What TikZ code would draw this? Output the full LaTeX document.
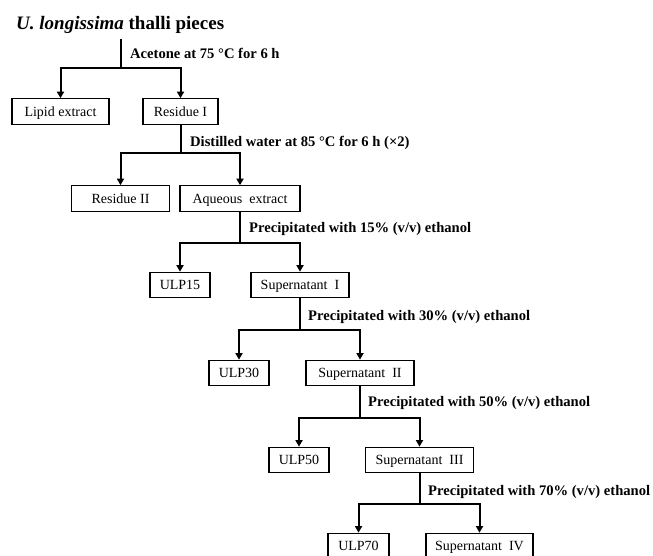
\documentclass[tikz,border=0pt]{standalone}
\usepackage{fontspec}
\setmainfont{Liberation Serif}
\usetikzlibrary{arrows.meta}
\begin{document}
\begin{tikzpicture}[x=1pt,y=-1pt,
  box/.style={draw,line width=1.2pt,minimum height=25.5pt,inner sep=0pt,text height=12pt,text depth=2.5pt,font=\fontsize{14}{16}\selectfont},
  lbl/.style={anchor=west,inner sep=0pt,font=\bfseries\fontsize{14.6}{16}\selectfont},
  line/.style={line width=2pt},
  arr/.style={line width=2pt,-{Triangle[length=6.5pt,width=7pt]}}]
\useasboundingbox (0,0) rectangle (653,556);
\clip (0,0) rectangle (653,556);
% title
\node[anchor=west,inner sep=0pt,font=\bfseries\fontsize{19}{22}\selectfont] (title) at (16,25) {\textit{U. longissima} thalli pieces};
\coordinate (t0) at (121,39);
% boxes
\node[box,minimum width=97pt] (lipid) at (60.5,111.5) {Lipid extract};
\node[box,minimum width=75pt] (res1) at (180.5,111.5) {Residue I};
\node[box,minimum width=98pt] (res2) at (120.5,198.5) {Residue II};
\node[box,minimum width=120pt] (aq) at (240,198.5) {Aqueous\ \ extract};
\node[box,minimum width=60pt] (ulp15) at (180,285) {ULP15};
\node[box,minimum width=98pt] (sup1) at (300,285) {Supernatant\ \ I};
\node[box,minimum width=60pt] (ulp30) at (239,373) {ULP30};
\node[box,minimum width=108pt] (sup2) at (360,373) {Supernatant\ \ II};
\node[box,minimum width=60pt] (ulp50) at (299,460) {ULP50};
\node[box,minimum width=108pt] (sup3) at (419.5,460) {Supernatant\ \ III};
\node[box,minimum width=61pt] (ulp70) at (358.5,546) {ULP70};
\node[box,minimum width=107pt] (sup4) at (479.5,546) {Supernatant\ \ IV};
% split points
\coordinate (h0) at (121,68);
\coordinate (h1) at (180.5,153);
\coordinate (h2) at (240,243);
\coordinate (h3) at (300,330);
\coordinate (h4) at (360,418);
\coordinate (h5) at (419.5,504);
% connectors
\draw[line] (t0) -- (h0);
\draw[arr] (h0) -| (lipid.north);
\draw[arr] (h0) -| (res1.north);
\draw[line] (res1.south) -- (h1);
\draw[arr] (h1) -| (res2.north);
\draw[arr] (h1) -| (aq.north);
\draw[line] (aq.south) -- (h2);
\draw[arr] (h2) -| (ulp15.north);
\draw[arr] (h2) -| (sup1.north);
\draw[line] (sup1.south) -- (h3);
\draw[arr] (h3) -| (ulp30.north);
\draw[arr] (h3) -| (sup2.north);
\draw[line] (sup2.south) -- (h4);
\draw[arr] (h4) -| (ulp50.north);
\draw[arr] (h4) -| (sup3.north);
\draw[line] (sup3.south) -- (h5);
\draw[arr] (h5) -| (ulp70.north);
\draw[arr] (h5) -| (sup4.north);
% labels
\node[lbl] (l0) at (130,53) {Acetone at 75 °C for 6 h};
\node[lbl] (l1) at (190,143) {Distilled water at 85 °C for 6 h (×2)};
\node[lbl] (l2) at (249,229) {Precipitated with 15\% (v/v) ethanol};
\node[lbl] (l3) at (308,317) {Precipitated with 30\% (v/v) ethanol};
\node[lbl] (l4) at (368,403) {Precipitated with 50\% (v/v) ethanol};
\node[lbl] (l5) at (428,492) {Precipitated with 70\% (v/v) ethanol};
\end{tikzpicture}
\end{document}
